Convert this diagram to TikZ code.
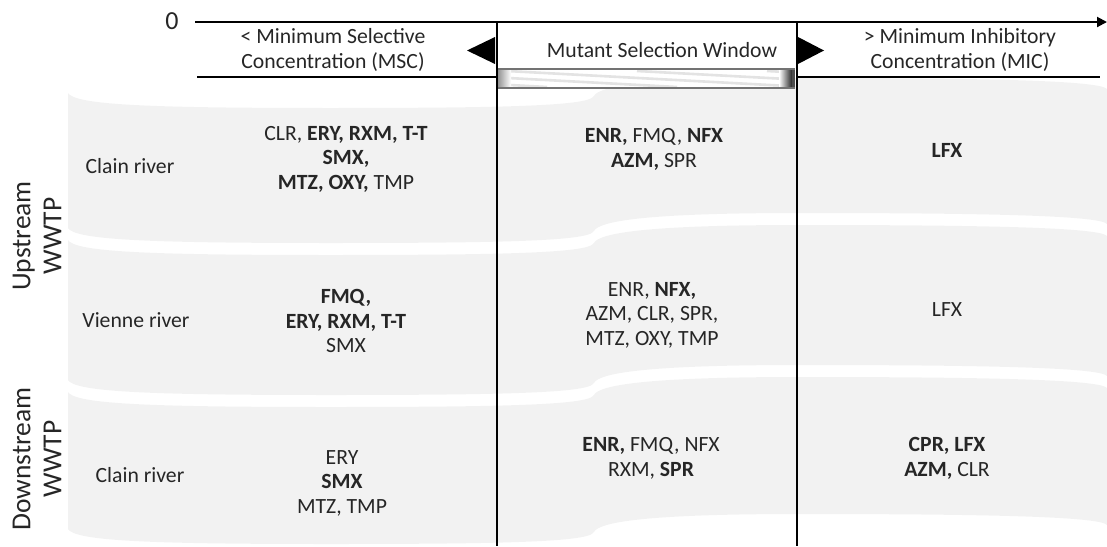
\documentclass[tikz,border=0pt]{standalone}
\usepackage{fontspec}
\setmainfont{Carlito}
\usetikzlibrary{arrows.meta}
\definecolor{bandgray}{HTML}{F2F2F2}
\definecolor{txt}{HTML}{262626}
\newcommand\bandpath[2]{(68,#1) .. controls (75,#1+12) and (150,#1+15) .. (330,#1+15) .. controls (500,#1+15) and (585,#1+13) .. (593,#1+4) .. controls (597,#1-4) and (620,#1-15) .. (800,#1-15) .. controls (1000,#1-15) and (1100,#1-12) .. (1107,#1-4) -- (1107,#2-4) .. controls (1100,#2-12) and (1000,#2-15) .. (800,#2-15) .. controls (620,#2-15) and (597,#2-4) .. (593,#2+4) .. controls (585,#2+13) and (500,#2+15) .. (330,#2+15) .. controls (150,#2+15) and (75,#2+12) .. (68,#2) -- cycle}
\begin{document}
\begin{tikzpicture}[x=1pt,y=-1pt,
  lbl/.style={inner sep=0pt, align=center, text=txt, font=\fontsize{21.7}{24.5}\selectfont},
  side/.style={inner sep=0pt, align=center, text=txt, rotate=90, font=\fontsize{27.5}{31}\selectfont},
  vline/.style={line width=2.4pt, black},
  hline/.style={line width=2pt, black}]
\useasboundingbox (0,0) rectangle (1107,546);
% bands
\fill[bandgray] \bandpath{93}{228};
\fill[bandgray] \bandpath{240}{380};
\fill[bandgray] \bandpath{392}{529};
% coordinates
\coordinate (axL) at (195,22);
\coordinate (axR) at (1107,22);
\coordinate (v1t) at (497,22);
\coordinate (v1b) at (497,546);
\coordinate (v2t) at (797,22);
\coordinate (v2b) at (797,546);
\coordinate (h1l) at (197,77);
\coordinate (h1r) at (497,77);
\coordinate (h2l) at (797,77);
\coordinate (h2r) at (1100,77);
% hatched bar
\begin{scope}
\clip (497,69) rectangle (795,88);
\fill[white] (497,69) rectangle (795,88);
\foreach \s in {-250,-120,...,400} {\draw[black!11, line width=2.6pt] (497+\s,71) -- (497+\s+300,87);}
\shade[left color=black!45, right color=white] (497,69) rectangle (511,88);
\shade[left color=white, right color=black!85] (779,69) rectangle (792,88);
\fill[black!70] (792,69) rectangle (795,88);
\end{scope}
\draw[black!55, line width=1.5pt] (497,69) -- (795,69);
\draw[black!55, line width=1.5pt] (497,88) -- (795,88);
% lines
\draw[hline, -{Triangle[length=10pt,width=10pt]}] (axL) -- (axR);
\draw[hline] (h1l) -- (h1r);
\draw[hline] (h2l) -- (h2r);
\draw[vline] (v1t) -- (v1b);
\draw[vline] (v2t) -- (v2b);
% triangles
\fill[black] (495,37) -- (495,64) -- (467,50.5) -- cycle;
\fill[black] (798,37) -- (798,64) -- (824,50.5) -- cycle;
% header texts
\node[lbl, font=\fontsize{26}{28}\selectfont] (zero) at (172,21) {0};
\node[lbl] (msc) at (333,50) {< Minimum Selective\\Concentration (MSC)};
\node[lbl] (msw) at (662,50) {Mutant Selection Window};
\node[lbl] (mic) at (960,50) {> Minimum Inhibitory\\Concentration (MIC)};
% side labels
\node[side] (up) at (37,236) {Upstream\\WWTP};
\node[side] (down) at (37,459) {Downstream\\WWTP};
% row labels
\node[lbl] (r1) at (130,166) {Clain river};
\node[lbl] (r2) at (136,320) {Vienne river};
\node[lbl] (r3) at (140,475) {Clain river};
% MSC column
\node[lbl] (a1) at (346,159) {CLR, \textbf{ERY, RXM, T-T}\\\textbf{SMX,}\\\textbf{MTZ, OXY,} TMP};
\node[lbl] (a2) at (346,321) {\textbf{FMQ,}\\\textbf{ERY, RXM, T-T}\\SMX};
\node[lbl] (a3) at (342,483) {ERY\\\textbf{SMX}\\MTZ, TMP};
% MSW column
\node[lbl] (b1) at (654,149.5) {\textbf{ENR,} FMQ, \textbf{NFX}\\\textbf{AZM,} SPR};
\node[lbl] (b2) at (652,315) {ENR, \textbf{NFX,}\\AZM, CLR, SPR,\\MTZ, OXY, TMP};
\node[lbl] (b3) at (651,458.5) {\textbf{ENR,} FMQ, NFX\\RXM, \textbf{SPR}};
% MIC column
\node[lbl] (c1) at (947,150) {\textbf{LFX}};
\node[lbl] (c2) at (947,310) {LFX};
\node[lbl] (c3) at (947,458.5) {\textbf{CPR, LFX}\\\textbf{AZM,} CLR};
\end{tikzpicture}
\end{document}
